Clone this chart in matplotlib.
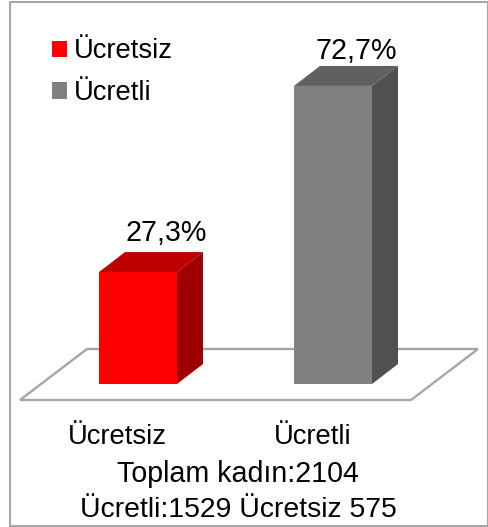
import matplotlib
matplotlib.use('Agg')
import matplotlib.pyplot as plt
from matplotlib.patches import Polygon, Rectangle

plt.rcParams['font.family'] = ['Liberation Sans', 'DejaVu Sans']

categories = ['Ücretsiz', 'Ücretli']
values = [27.3, 72.7]
value_labels = ['27,3%', '72,7%']
front_colors = ['#ff0000', '#808080']
top_colors = ['#bf0000', '#606060']
side_colors = ['#a00000', '#505050']
note_lines = ['Toplam kadın:2104', 'Ücretli:1529 Ücretsiz 575']

W, H = 489, 527
PX_X = 195.0   # pixels between the categories
PX_Y = 4.1     # pixels per percent
X0 = 138       # pixel of first category
Y0 = 384       # pixel of zero line

# label nudges in pixels, first and second category
value_dx = [28, 23]
value_dy = [11, 7]
cat_dx = [-20.5, -20]


def main():
    fig = plt.figure(figsize=(W / 100, H / 100), dpi=100)
    ax = fig.add_axes([0, 0, 1, 1])
    ax.set_xlim(-X0 / PX_X, (W - X0) / PX_X)
    ax.set_ylim((Y0 - H) / PX_Y, Y0 / PX_Y)
    ax.axis('off')

    fig.add_artist(Rectangle((10 / W, 1 - 526 / H), 478 / W, 524 / H, transform=fig.transFigure,
                             fill=False, ec='#a3a3a3', lw=1.4))

    bar_w = 78 / PX_X
    dx = 26 / PX_X
    dy = 20 / PX_Y

    # floor
    fx0, fx1 = (20 - X0) / PX_X, (411 - X0) / PX_X
    fy0 = (Y0 - 400) / PX_Y
    fdx, fdy = 67 / PX_X, 51 / PX_Y
    ax.add_patch(Polygon([(fx0, fy0), (fx1, fy0), (fx1 + fdx, fy0 + fdy), (fx0 + fdx, fy0 + fdy)],
                         closed=True, fc='white', ec='#a6a6a6', lw=1.7, zorder=1))

    # bars: front face plus top and side
    for i, v in enumerate(values):
        l = i - bar_w / 2
        r = i + bar_w / 2
        ax.bar(i, v, width=bar_w, color=front_colors[i], zorder=3)
        ax.add_patch(Polygon([(l, v), (r, v), (r + dx, v + dy), (l + dx, v + dy)],
                             closed=True, fc=top_colors[i], ec='none', zorder=3))
        ax.add_patch(Polygon([(r, 0), (r + dx, dy), (r + dx, v + dy), (r, v)],
                             closed=True, fc=side_colors[i], ec='none', zorder=3))
        ax.text(i + value_dx[i] / PX_X, v + dy + value_dy[i] / PX_Y, value_labels[i],
                ha='center', va='baseline', fontsize=20.6, color='black')
        ax.text(i + cat_dx[i] / PX_X, -60 / PX_Y, categories[i],
                ha='center', va='baseline', fontsize=19.7, color='black')

    handles = [Rectangle((0, 0), 1, 1, fc=c, ec='none') for c in front_colors]
    ax.legend(handles, categories, loc='upper left', bbox_to_anchor=(52 / W, 1 - 38.5 / H), frameon=False, fontsize=19.7,
              handlelength=0.55, handleheight=0.55, handletextpad=0.26, labelspacing=0.58, borderpad=0, borderaxespad=0)

    fig.text(238 / W, 1 - 482 / H, note_lines[0], ha='center', va='baseline', fontsize=20.6)
    fig.text(238 / W, 1 - 517 / H, note_lines[1], ha='center', va='baseline', fontsize=20.4)

    fig.savefig('out.png', dpi=100)


if __name__ == '__main__':
    main()
